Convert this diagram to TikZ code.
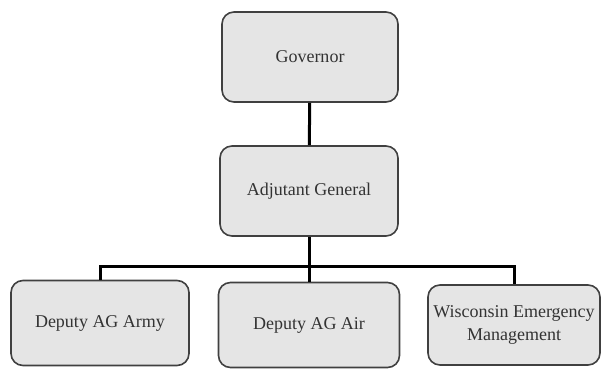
\documentclass[tikz,border=0pt]{standalone}
\usepackage{fontspec}
\setmainfont{Liberation Serif}
\usepackage{xcolor}
\definecolor{boxfill}{rgb}{.90,.90,.90}
\definecolor{boxline}{rgb}{.25,.25,.25}
\definecolor{textgray}{rgb}{.2,.2,.2}
\tikzset{
	office/.style={draw=boxline, fill=boxfill, line width=1.6pt, rounded corners=12pt,
		align=center, text=textgray, font=\fontsize{18}{23}\selectfont, inner sep=0pt},
	link/.style={line width=3pt, black}
}
\begin{document}
\begin{tikzpicture}[x=1pt, y=-1pt]
				\useasboundingbox (0,0) rectangle (601,370);

				\node[office, minimum width=176pt, minimum height=90pt] (governor) at (310,57) {Governor};
				\node[office, minimum width=178pt, minimum height=90pt] (adjutant) at (309,191) {Adjutant General};

				\node[office, minimum width=178pt, minimum height=85pt] (army) at (100,323) {Deputy AG Army};
				\node[office, minimum width=181pt, minimum height=85pt] (air) at (309,325) {Deputy AG Air};
				\node[office, minimum width=172pt, minimum height=80pt] (emergency) at (514,325)
					{Wisconsin Emergency\\Management};

				\coordinate (bus) at (309,266);

				\draw[link] (governor) -- (adjutant);
				\draw[link] (adjutant) -- (air);
				\draw[link] (army.north) |- (bus) -| (emergency.north);
			\end{tikzpicture}
\end{document}
